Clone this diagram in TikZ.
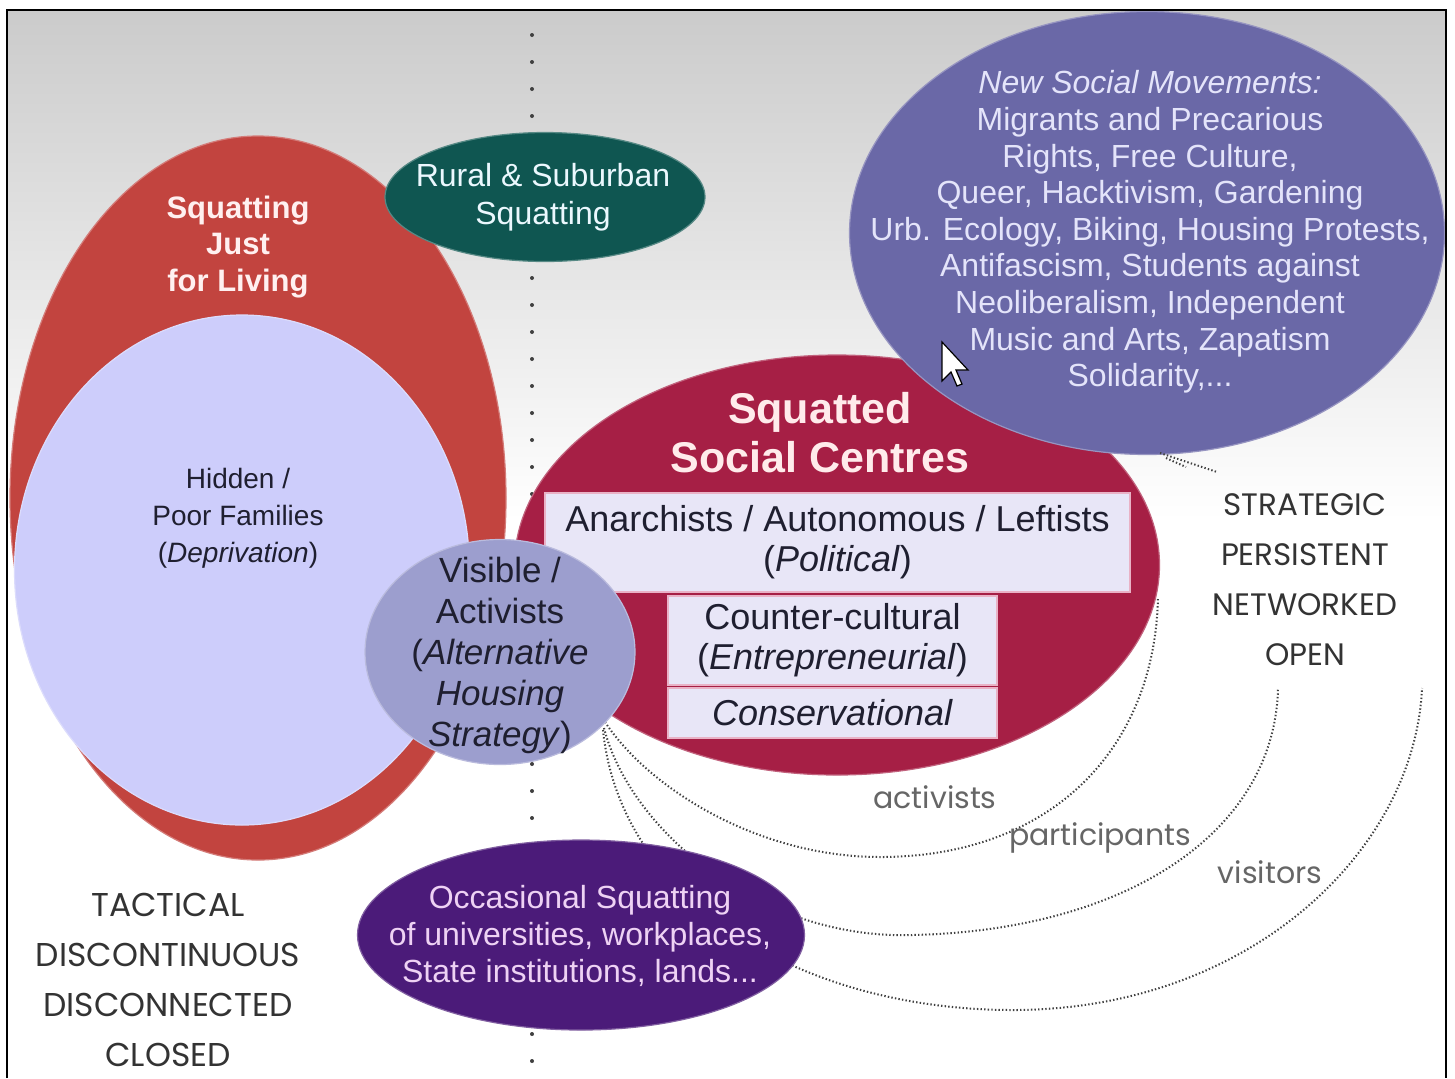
\documentclass[tikz,border=0pt]{standalone}
\usepackage{fontspec}
\setmainfont{Liberation Sans}
\newfontfamily\gothic{Poppins}
\usetikzlibrary{shapes.geometric}

\definecolor{bgtop}{HTML}{CBCBCB}
\definecolor{livingred}{HTML}{C2443F}
\definecolor{hiddenlav}{HTML}{CDCDFB}
\definecolor{ruralteal}{HTML}{0F5651}
\definecolor{centrecrim}{HTML}{A61F45}
\definecolor{nsmviolet}{HTML}{6A68A7}
\definecolor{visblue}{HTML}{9C9ECE}
\definecolor{occpurple}{HTML}{4B1B79}
\definecolor{boxfill}{HTML}{E8E6F7}
\definecolor{boxedge}{HTML}{E9B2C6}
\definecolor{inktext}{HTML}{1F1F30}
\definecolor{nsmtext}{HTML}{E4E4FA}
\definecolor{occtext}{HTML}{EED2F4}
\definecolor{arcgray}{HTML}{404040}

\newcommand\fsz[2]{\fontsize{#1}{#2}\selectfont}

\tikzset{
    blob/.style={ellipse, inner sep=0pt, draw=#1!70!white, line width=0.6pt, fill=#1},
    catbox/.style={rectangle, inner sep=0pt, draw=boxedge, line width=1pt, fill=boxfill,
        text=inktext, align=center, font=\fsz{18}{20}},
    lbl/.style={align=center, inner sep=0pt},
    trail/.style={arcgray, line width=1pt, dash pattern=on 0.7pt off 1.1pt},
    tag/.style={lbl, font=\gothic\fsz{16.5}{25}, text=black!80},
    trailtag/.style={lbl, font=\gothic\fsz{15}{18}, text=black!60},
}

\begin{document}
\begin{tikzpicture}[x=0.5pt, y=-0.5pt]
    \useasboundingbox (0,0) rectangle (1455,1078);
    \shade[top color=bgtop, bottom color=white] (7,10) rectangle (1446,520);
    \fill[white] (7,520) rectangle (1446,1078);
    \draw[black!75, line width=2pt, line cap=round, dash pattern=on 0pt off 13.5pt] (532,35) -- (532,1078);

    \node (living) [blob=livingred, minimum width=248pt, minimum height=362pt] at (258,498) {};
    \node (hidden) [blob=hiddenlav, minimum width=227.5pt, minimum height=255pt] at (242,570) {};
    \node (rural) [blob=ruralteal, minimum width=160pt, minimum height=64.5pt] at (545,197) {};
    \node (centres) [blob=centrecrim, minimum width=322.5pt, minimum height=210pt] at (837,565) {};
    \node (nsm) [blob=nsmviolet, minimum width=297.5pt, minimum height=221.5pt] at (1147,233) {};

    \draw[fill=white, line width=0.6pt, line join=miter] (942,342) -- (942,381) -- (951,372) -- (957,386) -- (962,384) -- (956,370) -- (968,370) -- cycle;

    \node (political) [catbox, minimum width=292.5pt, minimum height=49.5pt] at (837.5,542.5) {Anarchists / Autonomous / Leftists\\(\textit{Political})};
    \node (counter) [catbox, minimum width=164.5pt, minimum height=44.5pt] at (832.5,640.5) {Counter-cultural\\(\textit{Entrepreneurial})};
    \node (conserv) [catbox, minimum width=164.5pt, minimum height=25pt] at (832.5,713) {\textit{Conservational}};

    \coordinate (actend) at (1158,597);
    \coordinate (partend) at (1278,688);
    \coordinate (visend) at (1422,688);
    \draw[trail] (605,722) .. controls (650,790) and (760,857) .. (880,857) .. controls (1050,857) and (1155,750) .. (actend);
    \draw[trail] (604,728) .. controls (630,830) and (760,940) .. (913,935) .. controls (1130,930) and (1275,830) .. (partend);
    \draw[trail] (603,730) .. controls (620,900) and (800,1010) .. (1013,1010) .. controls (1250,1010) and (1415,850) .. (visend);
    \draw[trail] (1160,453) -- (1217,472);
    \draw[trail] (1166,458) -- (1186,467);

    \node (visible) [blob=visblue, minimum width=135pt, minimum height=112.5pt] at (500,652) {};
    \node (occasional) [blob=occpurple, minimum width=223.5pt, minimum height=95pt] at (581,935) {};

    \node (livinglbl) at (238,247) [lbl, text=white!94!red, font=\bfseries\fsz{15.5}{18.3}] {Squatting\\Just\\for Living};
    \node (hiddenlbl) at (238,518) [lbl, text=inktext, font=\fsz{14}{18.5}] {Hidden /\\Poor Families\\(\textit{Deprivation})};
    \node (rurallbl) at (543,197) [lbl, text=white!92!cyan, font=\fsz{16}{19}] {Rural \& Suburban\\Squatting};
    \node (centreslbl) at (820,433) [lbl, text=white!92!red, font=\bfseries\fsz{21.5}{24.5}] {Squatted\\Social Centres};
    \node (nsmlbl) at (1150,232) [lbl, text=nsmtext, font=\fsz{16}{18.3}] {\textit{New Social Movements:}\\Migrants and Precarious\\Rights, Free Culture,\\Queer, Hacktivism, Gardening\\Urb. Ecology, Biking, Housing Protests,\\Antifascism, Students against\\Neoliberalism, Independent\\Music and Arts, Zapatism\\Solidarity,...};
    \node (visiblelbl) at (500,655) [lbl, text=inktext, font=\fsz{17.5}{20.5}] {Visible /\\Activists\\(\textit{Alternative}\\\textit{Housing}\\\textit{Strategy})};
    \node (occlbl) at (580,936) [lbl, text=occtext, font=\fsz{16}{18.3}] {Occasional Squatting\\of universities, workplaces,\\State institutions, lands...};

    \node (tactical) at (168,980) [tag] {TACTICAL\\DISCONTINUOUS\\DISCONNECTED\\CLOSED};
    \node (strategic) at (1305,580) [tag, font=\gothic\fsz{15.5}{25}] {STRATEGIC\\PERSISTENT\\NETWORKED\\OPEN};
    \node (activistslbl) at (935,797) [trailtag] {activists};
    \node (participantslbl) at (1100,838) [trailtag] {participants};
    \node (visitorslbl) at (1270,872) [trailtag] {visitors};

    \draw[line width=0.9pt] (7,1078) -- (7,10) -- (1446,10) -- (1446,1078);
\end{tikzpicture}
\end{document}
